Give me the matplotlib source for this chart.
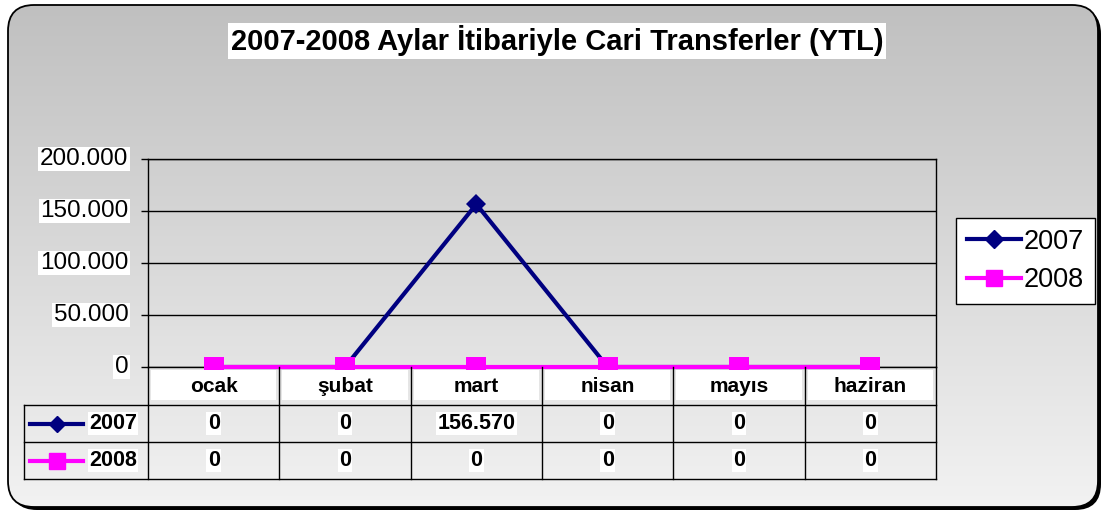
import numpy as np
import matplotlib.pyplot as plt
from matplotlib.patches import FancyBboxPatch, Rectangle
from matplotlib.lines import Line2D
from matplotlib.path import Path
from matplotlib.colors import LinearSegmentedColormap
from matplotlib.transforms import blended_transform_factory

plt.rcParams['font.family'] = ['Liberation Sans', 'DejaVu Sans']

title = '2007-2008 Aylar İtibariyle Cari Transferler (YTL)'
months = ['ocak', 'şubat', 'mart', 'nisan', 'mayıs', 'haziran']
years = ['2007', '2008']
values_2007 = [0, 0, 156570, 0, 0, 0]
values_2008 = [0, 0, 0, 0, 0, 0]
y_ticks = [0, 50000, 100000, 150000, 200000]

W, H = 1105, 515


def fx(x):
    return x / W


def fy(y):
    return 1 - y / H


def tr(v):
    # turkish thousands separator
    return f'{int(v):,}'.replace(',', '.')


fig = plt.figure(figsize=(W / 100, H / 100), dpi=100)

# background: rounded box with gray gradient + shadow
bg = fig.add_axes([0, 0, 1, 1])
bg.axis('off')
shadow = FancyBboxPatch((11, 8), 1090, 502, boxstyle='round,pad=0,rounding_size=26',
                        fc='black', ec='none', zorder=-2)
bg.add_patch(shadow)
box = FancyBboxPatch((8, 5), 1090, 502, boxstyle='round,pad=0,rounding_size=26',
                     fc='none', ec='black', lw=1.3, zorder=3)
bg.add_patch(box)
cmap = LinearSegmentedColormap.from_list('g', ['#c0c0c0', '#f2f2f2'])
img = bg.imshow(np.linspace(0, 1, 256).reshape(-1, 1), cmap=cmap, aspect='auto',
                extent=(8, 1098, 507, 5), zorder=-1)
img.set_clip_path(box)
bg.set_xlim(0, W)
bg.set_ylim(H, 0)

bg.text(557, 41, title, ha='center', va='center', fontsize=21, weight='bold',
        bbox=dict(fc='white', ec='none', pad=2))

# main plot
ax = fig.add_axes([fx(148), fy(367), fx(936) - fx(148), fy(159) - fy(367)])
ax.set_facecolor('none')
x = np.arange(len(months))
ax.set_xlim(-0.5, len(months) - 0.5)
ax.set_ylim(0, 200000)
ax.set_yticks(y_ticks)
ax.set_yticklabels([])
ax.set_xticks([])
ax.grid(axis='y', color='black', lw=1)
ax.set_axisbelow(True)
ax.tick_params(axis='y', direction='out', length=5, width=1, color='black')
for s in ax.spines.values():
    s.set_color('black')
    s.set_linewidth(1)

ylab = blended_transform_factory(ax.transAxes, ax.transData)
for v in y_ticks:
    ax.text(-0.025, v, tr(v), transform=ylab, ha='right', va='center', fontsize=17.5,
            bbox=dict(fc='white', ec='none', pad=1))

rect = Path([(-1, -0.95), (1, -0.95), (1, 0.95), (-1, 0.95), (-1, -0.95)], closed=True)
ax.plot(x, values_2007, color='#000080', lw=3, marker='D', ms=10.5, mew=0,
        clip_on=False, zorder=3)
ax.plot(x, values_2008, color='#ff00ff', lw=3, marker=rect, ms=15, mew=0,
        clip_on=False, zorder=4)

# data table under the axis
tx = blended_transform_factory(ax.transData, fig.transFigure)
m = 3 / 131
for i, name in enumerate(months):
    ax.add_patch(Rectangle((i - 0.5 + m, fy(400)), 1 - 2 * m, fy(370) - fy(400), transform=tx,
                           fc='white', ec='none', clip_on=False, zorder=5))
    ax.text(i, fy(386), name, transform=tx, ha='center', va='center', fontsize=15,
            weight='bold', zorder=6)
for e in np.arange(-0.5, len(months)):
    ax.plot([e, e], [fy(367), fy(479)], transform=tx, color='black', lw=1, clip_on=False, zorder=5)
for yy in [405, 442, 479]:
    fig.add_artist(Line2D([fx(24), fx(936)], [fy(yy)] * 2, color='black', lw=1))
fig.add_artist(Line2D([fx(24), fx(24)], [fy(405), fy(479)], color='black', lw=1))

rows = [(values_2007, '#000080', 'D', 8), (values_2008, '#ff00ff', 's', 11)]
row_y = [423.5, 460.5]
for (vals, col, mk, ms), yc, yr in zip(rows, row_y, years):
    for i, v in enumerate(vals):
        ax.text(i, fy(yc), tr(v), transform=tx, ha='center', va='center', fontsize=15.5,
                weight='bold', zorder=6, bbox=dict(fc='white', ec='none', pad=1))
    fig.add_artist(Line2D([fx(30), fx(56.5), fx(83)], [fy(yc)] * 3, color=col, lw=3,
                          marker=mk, ms=ms, markevery=[1]))
    fig.text(fx(89), fy(yc), yr, ha='left', va='center', fontsize=15.5, weight='bold',
             bbox=dict(fc='white', ec='none', pad=1))

# legend
handles = [Line2D([], [], color='#000080', lw=3, marker='D', ms=9),
           Line2D([], [], color='#ff00ff', lw=3, marker='s', ms=12)]
fig.legend(handles, years, loc='upper left', bbox_to_anchor=(fx(956), fy(218)),
           fontsize=19.5, frameon=True, fancybox=False, edgecolor='black', framealpha=1,
           borderaxespad=0, handlelength=2.0, handletextpad=0.1, borderpad=0.4,
           labelspacing=0.45)

fig.savefig('out.png', dpi=100)
